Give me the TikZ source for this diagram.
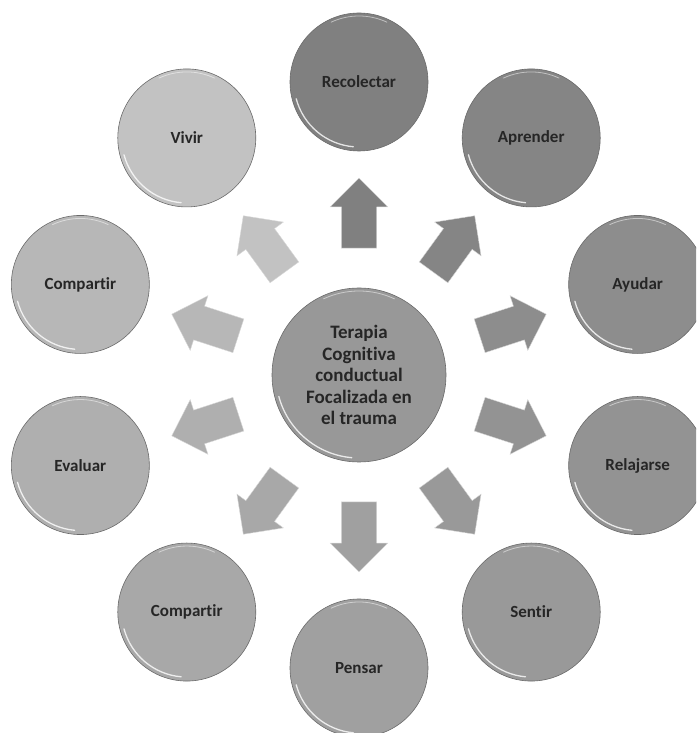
\documentclass[tikz,border=0pt]{standalone}
\usepackage{fontspec}
\setmainfont{Carlito}[Ligatures=NoCommon]
\usepackage{xcolor}
\usetikzlibrary{shapes.arrows,calc}
\definecolor{ink}{HTML}{262626}
\definecolor{rim}{HTML}{6A6A6A}
\definecolor{core}{HTML}{989898}
\definecolor{recolectar}{HTML}{808080}
\definecolor{aprender}{HTML}{858585}
\definecolor{ayudar}{HTML}{8D8D8D}
\definecolor{relajarse}{HTML}{939393}
\definecolor{sentir}{HTML}{999999}
\definecolor{pensar}{HTML}{A0A0A0}
\definecolor{compartirb}{HTML}{A8A8A8}
\definecolor{evaluar}{HTML}{AFAFAF}
\definecolor{compartira}{HTML}{B7B7B7}
\definecolor{vivir}{HTML}{C2C2C2}

\tikzset{
  disc/.style={circle, draw=rim, line width=0.6pt, minimum size=138pt, inner sep=0pt,
    text=ink, font=\fontsize{17}{20}\selectfont\bfseries},
  blockarrow/.style={single arrow, draw=white!85!black, line width=0.4pt,
    inner xsep=0pt, inner ysep=17.5pt, minimum height=70pt,
    single arrow head extend=11pt, single arrow tip angle=90},
  gloss/.style={white, line width=1.3pt, opacity=0.8, line cap=round}
}

\begin{document}
\begin{tikzpicture}[x=1pt, y=1pt]
  \useasboundingbox (0,0) rectangle (696,733);
  \clip (0,0) rectangle (696,733);

  % centre
  \node[disc, fill=core, minimum size=174pt, align=center,
    font=\fontsize{19}{21.5}\selectfont\bfseries] (hub) at (359,358)
    {Terapia\\Cognitiva\\conductual\\Focalizada en\\el trauma};
  \draw[gloss] ($(hub.center)+(195:83)$) arc[start angle=195, end angle=265, radius=83];
  \draw[gloss, line width=0.8pt, opacity=0.5] ($(hub.center)+(65:84)$) arc[start angle=65, end angle=115, radius=84];

  % steps around the centre
  \foreach \ang/\tag/\word in {90/recolectar/Recolectar, 54/aprender/Aprender,
      18/ayudar/Ayudar, -18/relajarse/Relajarse, -54/sentir/Sentir,
      -90/pensar/Pensar, -126/compartirb/Compartir, -162/evaluar/Evaluar,
      162/compartira/Compartir, 126/vivir/Vivir} {
    \node[blockarrow, fill=\tag, rotate=\ang] (arrow-\tag) at ($(hub)+(\ang:153)$) {};
    \node[disc, fill=\tag] (\tag) at ($(hub)+(\ang:293)$) {\word};
    \draw[gloss] ($(\tag.center)+(195:65)$) arc[start angle=195, end angle=265, radius=65];
    \draw[gloss, line width=0.8pt, opacity=0.5] ($(\tag.center)+(65:66)$) arc[start angle=65, end angle=115, radius=66];
  }
\end{tikzpicture}
\end{document}
